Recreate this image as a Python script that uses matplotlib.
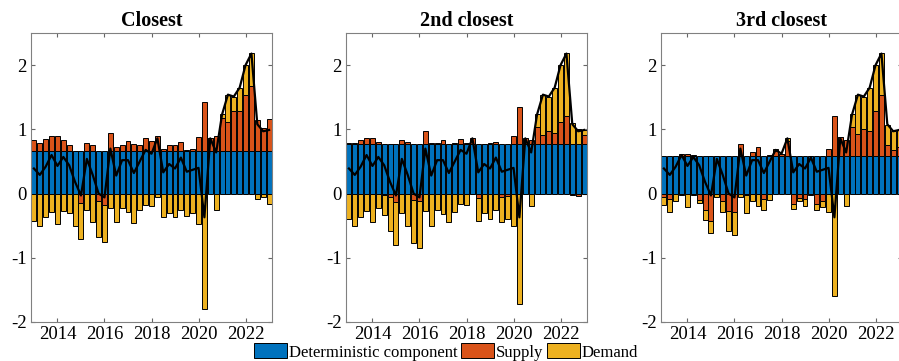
import numpy as np
import matplotlib.pyplot as plt
from matplotlib.patches import Patch

plt.rcParams["font.family"] = ["Liberation Serif", "DejaVu Serif"]
plt.rcParams["axes.unicode_minus"] = False

# quarterly, 2013Q1 .. 2023Q1
dates = 2013 + np.arange(41) / 4.0

# observed series (black line), same in every panel
actual = [0.39, 0.29, 0.42, 0.60, 0.43, 0.57, 0.44, 0.18, -0.03, 0.54,
          0.29, 0.00, -0.06, 0.70, 0.28, 0.52, 0.52, 0.32, 0.50, 0.68,
          0.62, 0.86, 0.33, 0.46, 0.39, 0.56, 0.34, 0.37, 0.40, -0.37,
          0.86, 0.64, 1.23, 1.54, 1.51, 1.65, 2.00, 2.18, 1.08, 0.97, 0.99]

titles = ["Closest", "2nd closest", "3rd closest"]
deterministic = [0.67, 0.77, 0.58]

supply_1 = [0.17, 0.11, 0.18, 0.22, 0.22, 0.16, 0.08, 0.00, -0.15, 0.12,
            0.08, -0.11, -0.18, 0.27, 0.06, 0.08, 0.15, 0.10, 0.09, 0.20,
            0.15, 0.23, 0.02, 0.09, 0.08, 0.14, 0.01, 0.02, 0.21, 0.75,
            0.20, 0.22, 0.51, 0.45, 0.61, 0.62, 0.86, 1.01, 0.48, 0.35, 0.49]
demand_1 = [-0.43, -0.50, -0.37, -0.29, -0.48, -0.27, -0.31, -0.50, -0.56, -0.25,
            -0.45, -0.56, -0.57, -0.23, -0.45, -0.22, -0.29, -0.46, -0.25, -0.18,
            -0.20, -0.05, -0.36, -0.30, -0.37, -0.25, -0.35, -0.31, -0.47, -1.79,
            0.00, -0.26, 0.06, 0.42, 0.23, 0.36, 0.47, 0.51, -0.08, -0.05, -0.17]

supply_2 = [0.02, 0.02, 0.07, 0.09, 0.09, 0.03, -0.02, -0.05, -0.13, 0.07,
            0.03, -0.10, -0.11, 0.21, 0.02, 0.01, 0.07, 0.00, 0.02, 0.08,
            0.02, 0.09, -0.07, 0.00, 0.01, 0.04, -0.06, -0.04, 0.13, 0.58,
            0.10, 0.06, 0.26, 0.14, 0.20, 0.17, 0.34, 0.44, -0.03, -0.04, 0.14]
demand_2 = [-0.39, -0.50, -0.37, -0.27, -0.45, -0.23, -0.31, -0.54, -0.67, -0.31,
            -0.50, -0.67, -0.74, -0.27, -0.51, -0.25, -0.32, -0.45, -0.29, -0.16,
            -0.18, -0.01, -0.36, -0.31, -0.39, -0.25, -0.38, -0.36, -0.50, -1.72,
            -0.01, -0.19, 0.21, 0.63, 0.54, 0.71, 0.89, 0.98, 0.33, 0.23, 0.08]

supply_3 = [-0.06, -0.08, 0.00, 0.04, 0.04, 0.02, -0.10, -0.25, -0.42, 0.01,
            -0.11, -0.27, -0.29, 0.19, -0.02, 0.07, 0.14, -0.08, 0.02, 0.09,
            0.04, 0.24, -0.17, -0.07, -0.09, -0.02, -0.16, -0.12, 0.11, 0.63,
            0.30, 0.25, 0.46, 0.35, 0.43, 0.39, 0.71, 0.95, 0.17, 0.10, 0.14]
demand_3 = [-0.12, -0.21, -0.11, -0.02, -0.21, -0.03, -0.04, -0.16, -0.19, -0.05,
            -0.17, -0.31, -0.36, -0.05, -0.28, -0.12, -0.19, -0.18, -0.10, 0.02,
            0.00, 0.04, -0.07, -0.04, -0.10, 0.00, -0.09, -0.09, -0.29, -1.59,
            0.00, -0.20, 0.20, 0.61, 0.50, 0.68, 0.71, 0.66, 0.32, 0.29, 0.27]

supply = [supply_1, supply_2, supply_3]
demand = [demand_1, demand_2, demand_3]

COLORS = ["#0072BD", "#D95319", "#EDB120"]
LABELS = ["Deterministic component", "Supply", "Demand"]

fig = plt.figure(figsize=(8.99, 3.61), dpi=100)
lefts = [31 / 899, 346 / 899, 661 / 899]
for i in range(3):
    ax = fig.add_axes([lefts[i], 39 / 361, 241 / 899, 289 / 361])
    det = np.full(len(dates), deterministic[i])
    comps = [det, np.array(supply[i]), np.array(demand[i])]
    pos_base = np.zeros(len(dates))
    neg_base = np.zeros(len(dates))
    # MATLAB-style stacking: positives build up from 0, negatives down from 0
    for vals, c in zip(comps, COLORS):
        bottom = np.where(vals >= 0, pos_base, neg_base)
        ax.bar(dates, vals, width=0.21, bottom=bottom, color=c,
               edgecolor="black", linewidth=0.7, zorder=2)
        pos_base = pos_base + np.clip(vals, 0, None)
        neg_base = neg_base + np.clip(vals, None, 0)
    ax.plot(dates, actual, color="black", lw=1.6, zorder=3)
    ax.set_xlim(2012.875, 2023.125)
    ax.set_ylim(-2, 2.5)
    ax.set_xticks([2014, 2016, 2018, 2020, 2022])
    ax.set_yticks([-2, -1, 0, 1, 2])
    ax.tick_params(direction="in", top=True, right=True, length=3,
                   labelsize=13.5, color="0.4", pad=3)
    for s in ax.spines.values():
        s.set_color("0.5")
        s.set_linewidth(0.8)
    ax.set_title(titles[i], fontsize=14.5, fontweight="bold", pad=5)

handles = [Patch(facecolor=c, edgecolor="black", linewidth=0.7) for c in COLORS]
fig.legend(handles, LABELS, loc="center", bbox_to_anchor=(446 / 899, 1 - 352 / 361),
           ncol=3, frameon=False, fontsize=12, handlelength=2.0, handleheight=1.0,
           handletextpad=0.1, columnspacing=0.2, borderpad=0)

fig.savefig("out.png", dpi=100)
